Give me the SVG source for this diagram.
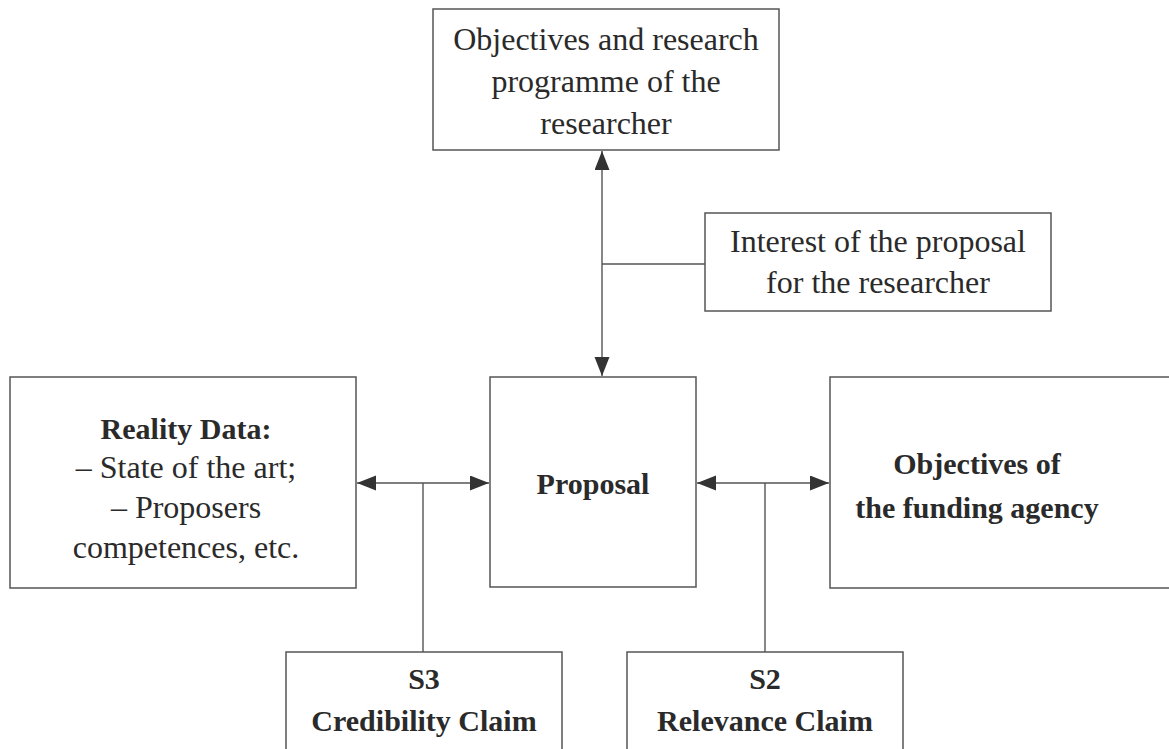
<svg xmlns="http://www.w3.org/2000/svg" width="1169" height="749" viewBox="0 0 1169 749">
  <style>
    .box { fill: #ffffff; stroke: #555555; stroke-width: 1.5; }
    .t { font-family: "Liberation Serif", "Times New Roman", serif; font-size: 32px; fill: #2a2a2a; text-anchor: middle; }
    .b { font-weight: bold; font-size: 30px; }
    .ln { fill: none; stroke: #555555; stroke-width: 1.4; }
  </style>
  <defs>
    <marker id="ah" markerUnits="userSpaceOnUse" markerWidth="20" markerHeight="16" refX="19" refY="7.5" orient="auto-start-reverse" viewBox="0 0 20 16">
      <path d="M0,0 L19,7.5 L0,15 z" fill="#333333"/>
    </marker>
  </defs>
  <rect x="0" y="0" width="1169" height="749" fill="#ffffff"/>

  <g id="connectors">
    <line class="ln" x1="602" y1="151" x2="602" y2="376" marker-start="url(#ah)" marker-end="url(#ah)"/>
    <line class="ln" x1="602" y1="264" x2="705" y2="264"/>
    <line class="ln" x1="357" y1="483" x2="489" y2="483" marker-start="url(#ah)" marker-end="url(#ah)"/>
    <line class="ln" x1="423" y1="483" x2="423" y2="652"/>
    <line class="ln" x1="697" y1="483" x2="829" y2="483" marker-start="url(#ah)" marker-end="url(#ah)"/>
    <line class="ln" x1="765" y1="483" x2="765" y2="652"/>
  </g>

  <g id="node-researcher">
    <rect class="box" x="433" y="9" width="346" height="141"/>
    <text class="t" x="606" y="50">Objectives and research</text>
    <text class="t" x="606" y="92">programme of the</text>
    <text class="t" x="606" y="134">researcher</text>
  </g>

  <g id="node-interest">
    <rect class="box" x="705" y="213" width="346" height="98"/>
    <text class="t" x="878" y="252">Interest of the proposal</text>
    <text class="t" x="878" y="293">for the researcher</text>
  </g>

  <g id="node-reality">
    <rect class="box" x="10" y="377" width="346" height="211"/>
    <text class="t b" x="186" y="439">Reality Data:</text>
    <text class="t" x="186" y="478">– State of the art;</text>
    <text class="t" x="186" y="518">– Proposers</text>
    <text class="t" x="186" y="558">competences, etc.</text>
  </g>

  <g id="node-proposal">
    <rect class="box" x="490" y="377" width="206" height="210"/>
    <text class="t b" x="593" y="494">Proposal</text>
  </g>

  <g id="node-funding">
    <rect class="box" x="830" y="377" width="345" height="211"/>
    <text class="t b" x="977" y="474">Objectives of</text>
    <text class="t b" x="977" y="518">the funding agency</text>
  </g>

  <g id="node-s3">
    <rect class="box" x="286" y="652" width="276" height="110"/>
    <text class="t b" x="424" y="689">S3</text>
    <text class="t b" x="424" y="731">Credibility Claim</text>
  </g>

  <g id="node-s2">
    <rect class="box" x="627" y="652" width="276" height="110"/>
    <text class="t b" x="765" y="689">S2</text>
    <text class="t b" x="765" y="731">Relevance Claim</text>
  </g>
</svg>
